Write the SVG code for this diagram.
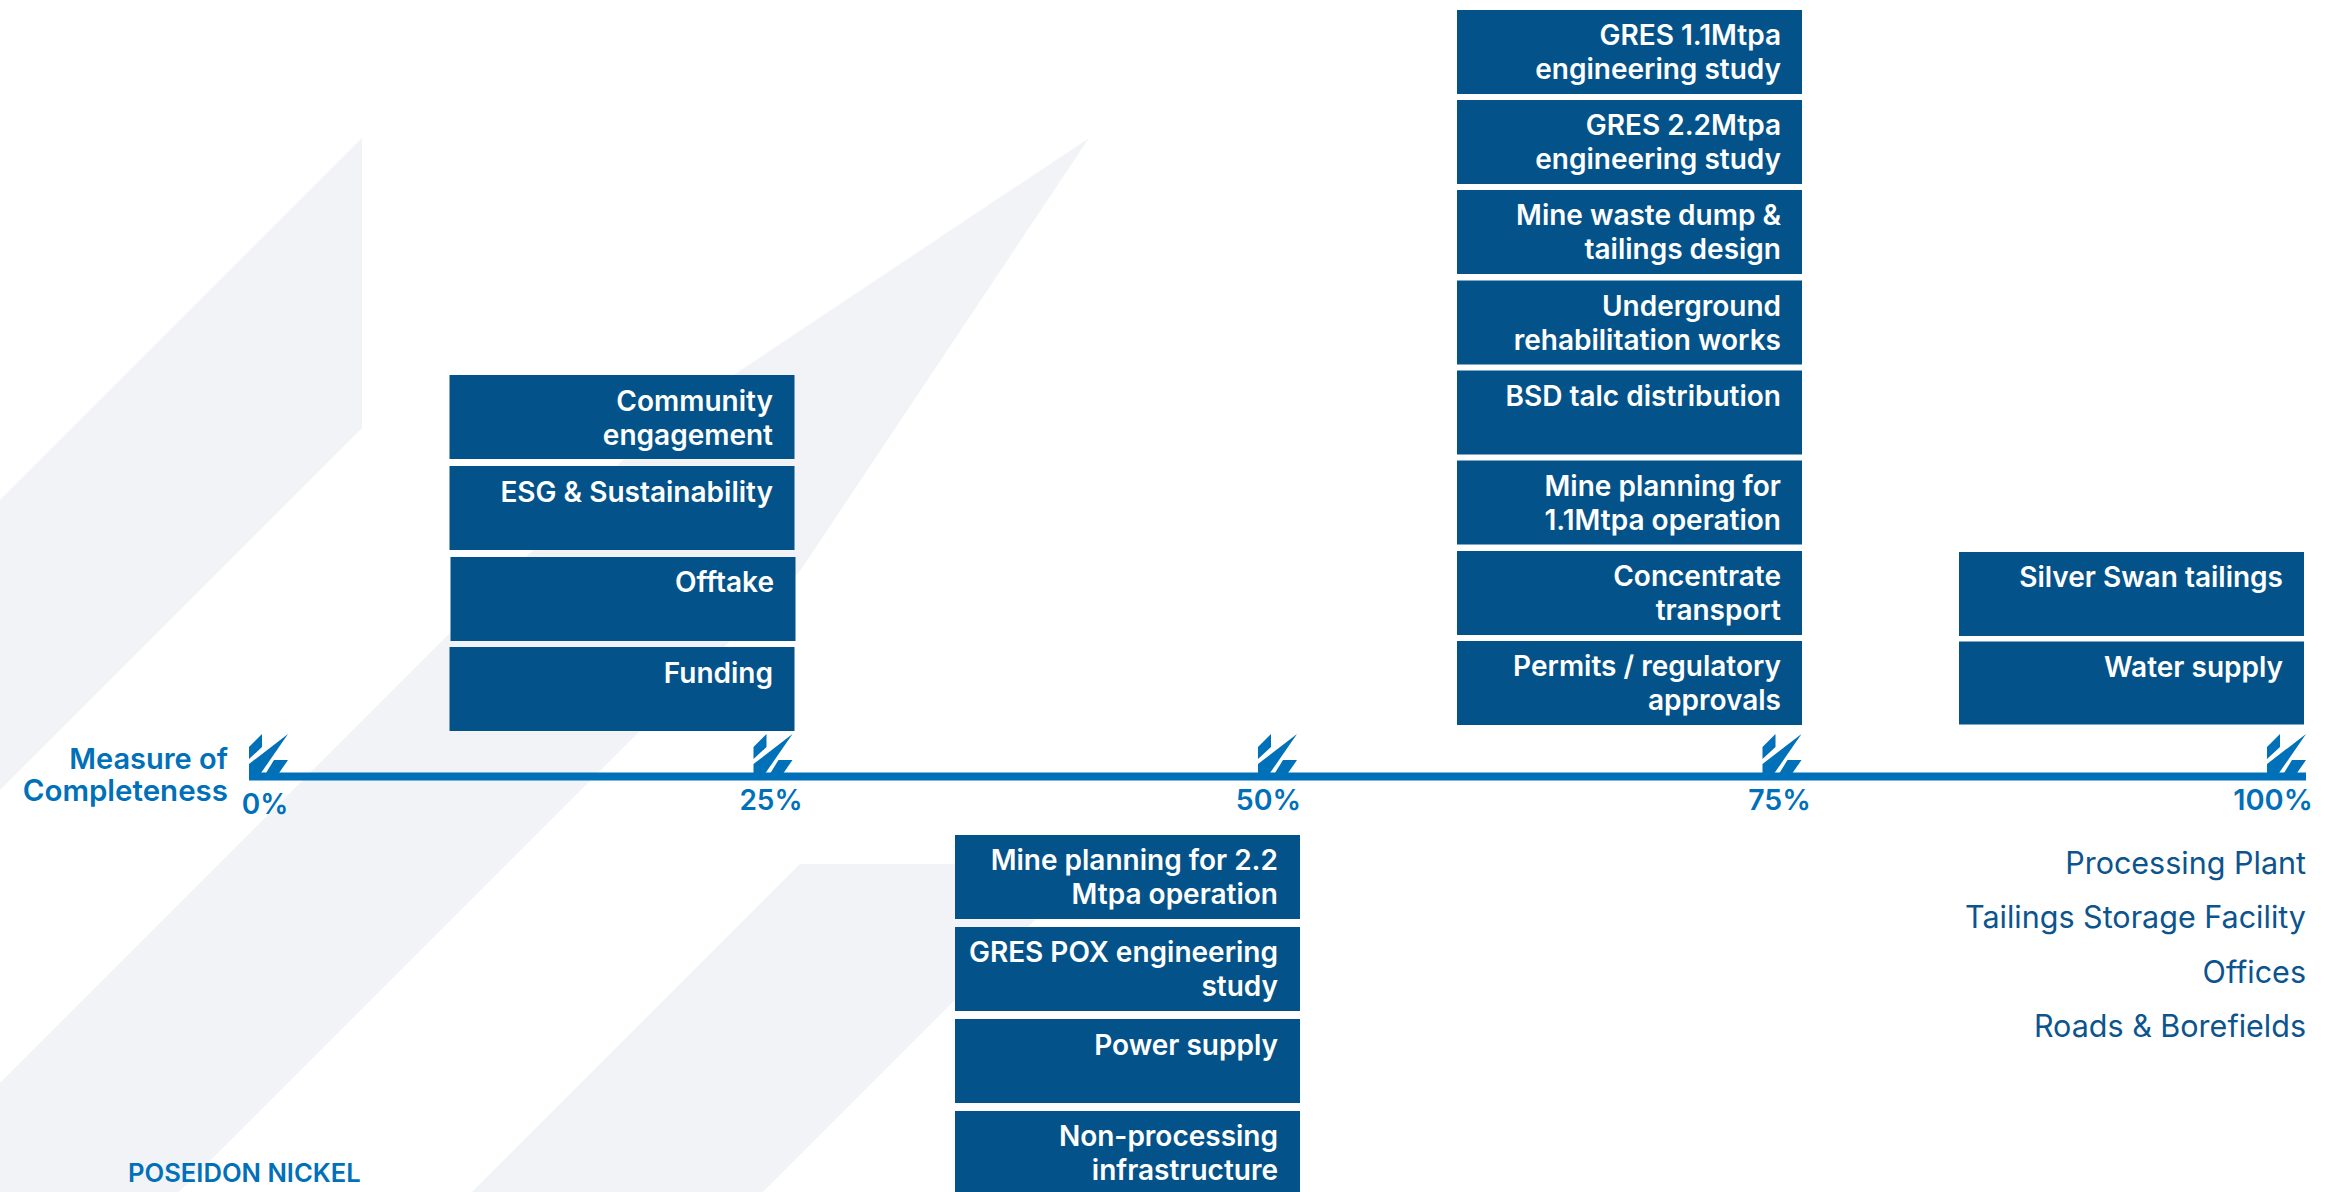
<svg xmlns="http://www.w3.org/2000/svg" xmlns:xlink="http://www.w3.org/1999/xlink" width="2329" height="1192" viewBox="0 0 2329 1192">
<style>
.bg{fill:#f1f3f6}
.box{fill:#03538a}
.bt{font-family:Inter,"Noto Sans",sans-serif;font-weight:600;font-size:28px;fill:#ffffff;text-anchor:end}
.ax{font-family:Inter,"Noto Sans",sans-serif;font-weight:600;font-size:29px;fill:#0070b9}
.rt{font-family:Inter,"Noto Sans",sans-serif;font-weight:400;font-size:30.5px;fill:#0c548e;text-anchor:end}
.tk{fill:#0070b9}
</style>
<defs>
<g id="tick">
<polygon class="tk" points="0,13 13,0 13,13 0,25"/>
<polygon class="tk" points="39,0 0,30 0,39 12,39"/>
<polygon class="tk" points="25,26 39,26 30,39 17,39"/>
</g>
</defs>
<rect width="2329" height="1192" fill="#ffffff"/>
<g id="background">
<polygon class="bg" points="362,138 362,428 0,790 0,500"/>
<polygon class="bg" points="1089,138 657,426 0,1083 0,1192 179,1192 800,571"/>
<polygon class="bg" points="800,864 1091,864 763,1192 472,1192"/>
</g>
<g id="connectors">
<rect x="249" y="772.5" width="2057" height="8" fill="#0070b9"/>
<use xlink:href="#tick" x="249" y="734"/>
<use xlink:href="#tick" x="753.5" y="734"/>
<use xlink:href="#tick" x="1258" y="734"/>
<use xlink:href="#tick" x="1762.5" y="734"/>
<use xlink:href="#tick" x="2267" y="734"/>
</g>
<g id="axis-labels">
<text class="ax" x="228" y="768.5" text-anchor="end">Measure of</text>
<text class="ax" x="228" y="800.5" text-anchor="end" style="font-size:29.5px">Completeness</text>
<text class="ax" x="265" y="813.5" text-anchor="middle" style="font-size:28px">0%</text>
<text class="ax" x="771" y="810" text-anchor="middle" style="font-size:28px">25%</text>
<text class="ax" x="1268.5" y="810" text-anchor="middle" style="font-size:28.5px">50%</text>
<text class="ax" x="1779.5" y="810" text-anchor="middle" style="font-size:28.5px">75%</text>
<text class="ax" x="2273" y="810" text-anchor="middle">100%</text>
</g>
<g id="n-community"><rect class="box" x="449.5" y="375" width="345" height="84"/><text class="bt" x="773" y="411"><tspan x="773">Community</tspan><tspan x="773" dy="34">engagement</tspan></text></g>
<g id="n-esg"><rect class="box" x="449.5" y="466" width="345" height="84"/><text class="bt" x="773" y="502">ESG &amp; Sustainability</text></g>
<g id="n-offtake"><rect class="box" x="450.5" y="557" width="345" height="84"/><text class="bt" x="774" y="592">Offtake</text></g>
<g id="n-funding"><rect class="box" x="449.5" y="647" width="345" height="84"/><text class="bt" x="773" y="683">Funding</text></g>

<g id="n-gres11"><rect class="box" x="1457" y="10" width="345" height="84"/><text class="bt" x="1781" y="45"><tspan x="1781">GRES 1.1Mtpa</tspan><tspan x="1781" dy="34">engineering study</tspan></text></g>
<g id="n-gres22"><rect class="box" x="1457" y="100" width="345" height="84"/><text class="bt" x="1781" y="135"><tspan x="1781">GRES 2.2Mtpa</tspan><tspan x="1781" dy="34">engineering study</tspan></text></g>
<g id="n-waste"><rect class="box" x="1457" y="190" width="345" height="84"/><text class="bt" x="1781" y="225"><tspan x="1781">Mine waste dump &amp;</tspan><tspan x="1781" dy="34">tailings design</tspan></text></g>
<g id="n-underground"><rect class="box" x="1457" y="280.5" width="345" height="84"/><text class="bt" x="1781" y="315.5"><tspan x="1781">Underground</tspan><tspan x="1781" dy="34">rehabilitation works</tspan></text></g>
<g id="n-bsd"><rect class="box" x="1457" y="370.5" width="345" height="84"/><text class="bt" x="1781" y="405.5">BSD talc distribution</text></g>
<g id="n-mine11"><rect class="box" x="1457" y="460.5" width="345" height="84"/><text class="bt" x="1781" y="495.5"><tspan x="1781">Mine planning for</tspan><tspan x="1781" dy="34">1.1Mtpa operation</tspan></text></g>
<g id="n-concentrate"><rect class="box" x="1457" y="551" width="345" height="84"/><text class="bt" x="1781" y="586"><tspan x="1781">Concentrate</tspan><tspan x="1781" dy="34">transport</tspan></text></g>
<g id="n-permits"><rect class="box" x="1457" y="641" width="345" height="84"/><text class="bt" x="1781" y="676"><tspan x="1781">Permits / regulatory</tspan><tspan x="1781" dy="34">approvals</tspan></text></g>

<g id="n-silverswan"><rect class="box" x="1959" y="552" width="345" height="84"/><text class="bt" x="2283" y="587">Silver Swan tailings</text></g>
<g id="n-water"><rect class="box" x="1959" y="641.5" width="345" height="83"/><text class="bt" x="2283" y="676.5">Water supply</text></g>

<g id="n-mine22"><rect class="box" x="955" y="835" width="345" height="84"/><text class="bt" x="1278" y="870"><tspan x="1278">Mine planning for 2.2</tspan><tspan x="1278" dy="34">Mtpa operation</tspan></text></g>
<g id="n-pox"><rect class="box" x="955" y="927" width="345" height="84"/><text class="bt" x="1278" y="961.5"><tspan x="1278">GRES POX engineering</tspan><tspan x="1278" dy="34">study</tspan></text></g>
<g id="n-power"><rect class="box" x="955" y="1019" width="345" height="84"/><text class="bt" x="1278" y="1055">Power supply</text></g>
<g id="n-nonprocessing"><rect class="box" x="955" y="1111" width="345" height="90"/><text class="bt" x="1278" y="1146"><tspan x="1278">Non-processing</tspan><tspan x="1278" dy="34">infrastructure</tspan></text></g>

<g id="complete-list">
<text class="rt" x="2306" y="874">Processing Plant</text>
<text class="rt" x="2306" y="928">Tailings Storage Facility</text>
<text class="rt" x="2306" y="983">Offices</text>
<text class="rt" x="2306" y="1037">Roads &amp; Borefields</text>
</g>
<text id="brand" class="ax" x="128" y="1182" style="font-size:25.6px">POSEIDON NICKEL</text>
</svg>
